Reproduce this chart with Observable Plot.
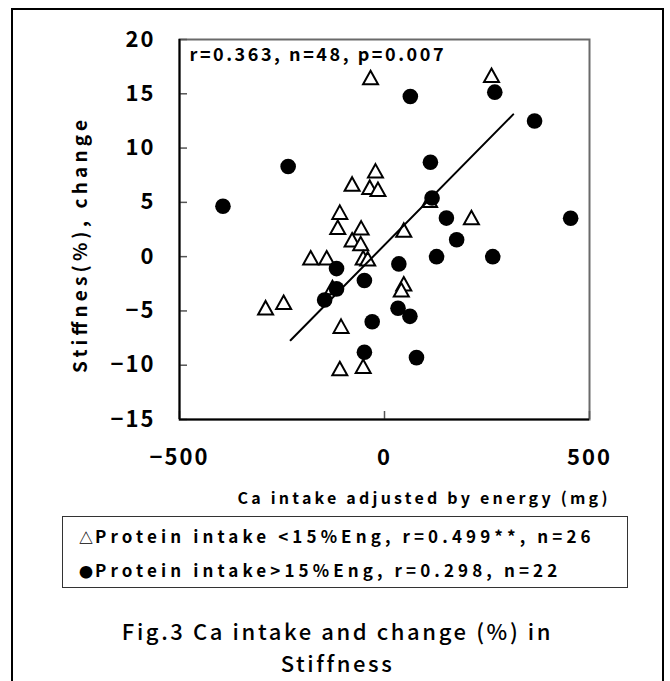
<!DOCTYPE html>
<html><head><meta charset="utf-8">
<script src="https://cdn.jsdelivr.net/npm/d3@7"></script>
<script src="https://cdn.jsdelivr.net/npm/@observablehq/plot@0.6"></script>
<style>
body{margin:0;background:#fff;}
#wrap{position:relative;width:670px;height:681px;overflow:hidden;font-family:"Noto Sans CJK JP","Noto Sans",sans-serif;color:#000;}
#outer{position:absolute;left:11px;top:8px;width:653px;height:720px;border:2px solid #000;box-sizing:border-box;}
#chart{position:absolute;left:0;top:0;}
#legend{position:absolute;left:62px;top:516px;width:566px;height:72px;border:1.5px solid #333;box-sizing:border-box;}
.leg{position:absolute;left:16px;font-weight:bold;font-size:17px;letter-spacing:4.1px;white-space:nowrap;line-height:20px;}
.sym{font-size:14px;letter-spacing:2px;}
.cap{position:absolute;left:12px;width:651px;text-align:center;font-size:22px;font-weight:500;line-height:32px;height:32px;letter-spacing:2.6px;white-space:nowrap;}
</style></head>
<body>
<div id="wrap">
  <div id="outer"></div>
  <div id="chart"></div>
  <div id="legend">
    <div class="leg" id="leg1" style="top:9px"></div>
    <div class="leg" id="leg2" style="top:43px"></div>
  </div>
  <div class="cap" id="cap1" style="top:614px"></div>
  <div class="cap" id="cap2" style="top:646px"></div>
</div>
<script>
// ---- data ----
const triX = [-34, 261, -22, -79, -36, -16, 110, 212, -109, -114, -57, 47, -79, -58, -180, -141, -52, -41, 47, 41, -127, -290, -246, -106, -109, -52];
const triY = [16.5, 16.7, 7.9, 6.7, 6.4, 6.2, 5.2, 3.6, 4.1, 2.7, 2.65, 2.45, 1.55, 1.2, -0.1, -0.1, -0.1, -0.2, -2.5, -3.05, -2.85, -4.7, -4.2, -6.4, -10.3, -10.1];
const circX = [63, -235, -394, 112, 116, 151, 176, 269, 366, 454, 127, 264, 35, -117, -49, -117, -146, 33, 62, -30, -49, 78];
const circY = [14.75, 8.3, 4.64, 8.7, 5.4, 3.55, 1.55, 15.15, 12.5, 3.54, 0.0, 0.0, -0.67, -1.1, -2.2, -2.97, -4.0, -4.75, -5.5, -6.0, -8.8, -9.3];
const fitX = [-229, 314];
const fitY = [-7.7, 13.1];
const xTicks = [-500, 0, 500];
const yTicks = [-15, -10, -5, 0, 5, 10, 15, 20];
const statsText = "r=0.363, n=48, p=0.007";
const xLabel = "Ca intake adjusted by energy (mg)";
const yLabel = "Stiffnes(%), change";
const legendSymbols = ["△", "●"];
const legendTexts = ["Protein intake <15%Eng, r=0.499**, n=26", "Protein intake>15%Eng, r=0.298, n=22"];
const captionLines = ["Fig.3 Ca intake and change (%) in", "Stiffness"];

const tri = triX.map((x, i) => ({x, y: triY[i]}));
const circ = circX.map((x, i) => ({x, y: circY[i]}));
const fit = fitX.map((x, i) => ({x, y: fitY[i]}));
const fmt = d => String(d).replace("-", "\u2212");
const FONT = "'Noto Sans CJK JP', 'Noto Sans', sans-serif";

// triangle centred on its bounding box
const triSymbol = {
  draw(ctx, size) {
    const r = Math.sqrt(size / Math.PI);
    ctx.moveTo(0, -0.9 * r);
    ctx.lineTo(r, 0.9 * r);
    ctx.lineTo(-r, 0.9 * r);
    ctx.closePath();
  }
};

const chart = Plot.plot({
  width: 670,
  height: 510,
  marginLeft: 179,
  marginRight: 81,
  marginTop: 39,
  marginBottom: 91,
  x: {domain: [-500, 500], axis: null},
  y: {domain: [-15, 20], axis: null},
  style: {fontFamily: FONT, background: "transparent", overflow: "visible"},
  marks: [
    Plot.frame({stroke: "#6a6a6a", strokeWidth: 2}),
    Plot.ruleY(yTicks, {insetRight: 402, stroke: "#555", strokeWidth: 1.5}),
    Plot.ruleX(xTicks, {insetTop: 372, stroke: "#555", strokeWidth: 1.5}),
    Plot.ruleX([-500], {stroke: "#000", strokeWidth: 2}),
    Plot.ruleY([-15], {stroke: "#000", strokeWidth: 2}),
    Plot.text(yTicks, {y: d => d, text: fmt, frameAnchor: "left", dx: -24, textAnchor: "end", lineAnchor: "middle", fontSize: 22, fontWeight: "bold", fill: "#000"}),
    Plot.text(xTicks, {x: d => d, text: fmt, frameAnchor: "bottom", dy: 38, lineAnchor: "middle", fontSize: 22, fontWeight: "bold", fill: "#000"}),
    Plot.text([statsText], {text: d => d, frameAnchor: "top-left", dx: 10, dy: 16, textAnchor: "start", lineAnchor: "middle", fontSize: 18, fontWeight: "bold", fill: "#000"}),
    Plot.text([xLabel], {text: d => d, frameAnchor: "bottom-right", dx: 18, dy: 79, textAnchor: "end", lineAnchor: "middle", fontSize: 16, fontWeight: "bold", fill: "#000"}),
    Plot.text([yLabel], {text: d => d, frameAnchor: "left", dx: -99, dy: 17, rotate: -90, textAnchor: "middle", lineAnchor: "middle", fontSize: 19, fontWeight: "bold", fill: "#000"}),
    Plot.dot(tri, {x: "x", y: "y", r: 7.5, symbol: triSymbol, fill: "white", stroke: "black", strokeWidth: 2}),
    Plot.dot(circ, {x: "x", y: "y", r: 7.8, fill: "black", stroke: "none"}),
    Plot.line(fit, {x: "x", y: "y", stroke: "black", strokeWidth: 2})
  ]
});
// stretch texts to the widths seen in the reference
const lengths = new Map([[statsText, 254], [xLabel, 370], [yLabel, 253]]);
d3.select(chart).selectAll("text").each(function() {
  const t = this.textContent;
  if (lengths.has(t)) {
    this.setAttribute("textLength", lengths.get(t));
    this.setAttribute("lengthAdjust", "spacing");
  } else if (/^[\u2212\d]+$/.test(t)) {
    this.style.letterSpacing = "2px";
  }
});
document.getElementById("chart").appendChild(chart);
["leg1", "leg2"].forEach((id, i) => {
  const el = document.getElementById(id);
  const s = document.createElement("span");
  s.className = "sym";
  s.textContent = legendSymbols[i];
  el.appendChild(s);
  el.appendChild(document.createTextNode(legendTexts[i]));
});
document.getElementById("cap1").textContent = captionLines[0];
document.getElementById("cap2").textContent = captionLines[1];
</script>
</body></html>
